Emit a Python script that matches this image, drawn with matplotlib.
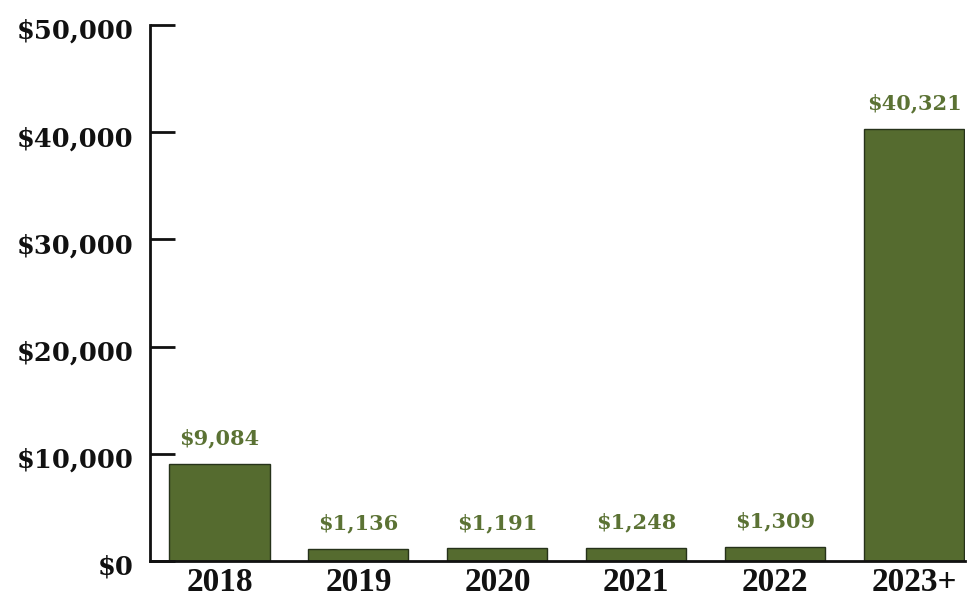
import matplotlib

matplotlib.use("Agg")
import matplotlib.pyplot as plt
import matplotlib.transforms as mtransforms
from matplotlib.ticker import FuncFormatter

years = ["2018", "2019", "2020", "2021", "2022", "2023+"]
amounts = [9084, 1136, 1191, 1248, 1309, 40321]
y_ticks = [0, 10000, 20000, 30000, 40000, 50000]

BAR_COLOR = "#556b2f"
EDGE_COLOR = "#26321a"
LABEL_COLOR = "#5b7234"
INK = "#111111"

plt.rcParams["font.family"] = ["DejaVu Serif"]

fig = plt.figure(figsize=(9.71, 6.0), dpi=100)
ax = fig.add_axes([150 / 971, 39 / 600, 815 / 971, 536 / 600])

x = range(len(years))
bars = ax.bar(x, amounts, width=0.72, color=BAR_COLOR, edgecolor=EDGE_COLOR, linewidth=1.0)

# value labels above each bar
for bar, val in zip(bars, amounts):
    ax.annotate(f"${val:,}", (bar.get_x() + bar.get_width() / 2, val),
                xytext=(0, 11), textcoords="offset points",
                ha="center", va="bottom", fontsize=15, fontweight="bold",
                color=LABEL_COLOR)

ax.set_xlim(-0.5, 5.365)
ax.set_ylim(0, 50000)
ax.set_yticks(y_ticks)
ax.yaxis.set_major_formatter(FuncFormatter(lambda v, _: f"${int(v):,}"))
ax.set_xticks(list(x))
ax.set_xticklabels(years)

for side in ("top", "right"):
    ax.spines[side].set_visible(False)
for side in ("left", "bottom"):
    ax.spines[side].set_linewidth(2.0)
    ax.spines[side].set_color(INK)

ax.tick_params(axis="y", direction="in", length=18, width=2.0, pad=12,
               labelsize=18.5, colors=INK)
ax.tick_params(axis="x", length=0, pad=4.5, colors=INK)

shift = mtransforms.ScaledTranslation(0, -4 / 100, fig.dpi_scale_trans)
for lbl in ax.get_yticklabels():
    lbl.set_fontweight("bold")
    lbl.set_transform(lbl.get_transform() + shift)
for lbl in ax.get_xticklabels():
    lbl.set_fontweight("bold")
    lbl.set_fontfamily(["Liberation Serif", "DejaVu Serif"])
    lbl.set_fontsize(24)

fig.savefig("out.png", dpi=100)
